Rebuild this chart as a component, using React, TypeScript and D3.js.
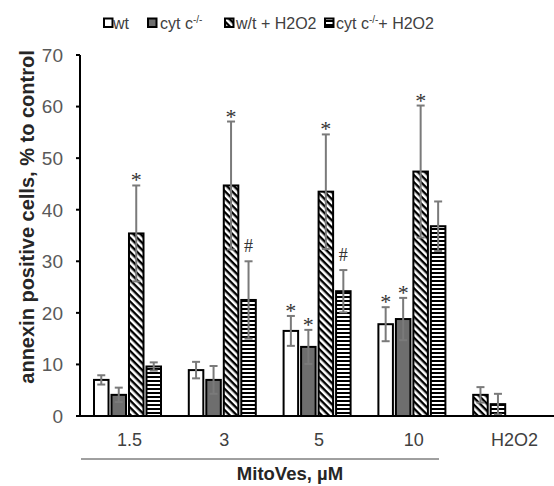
import { useEffect, useRef } from 'react';
import * as d3 from 'd3';

// groups on the x axis
const groups = ['1.5', '3', '5', '10', 'H2O2'];
const seriesKeys = ['wt', 'cyt', 'wtH2O2', 'cytH2O2'];
const seriesFill = ['white', 'gray', 'diag', 'horiz'];

// means and errors (null = no bar)
const wtMeans = [7.0, 8.9, 16.5, 17.8, null];
const wtErr = [0.9, 1.6, 2.9, 3.3, null];
const cytMeans = [4.1, 7.0, 13.4, 18.8, null];
const cytErr = [1.4, 2.7, 3.3, 4.1, null];
const wtH2O2Means = [35.4, 44.7, 43.5, 47.4, null];
const wtH2O2Err = [9.3, 12.4, 11.1, 12.8, null];
const cytH2O2Means = [9.6, 22.5, 24.2, 36.8, null];
const cytH2O2Err = [0.8, 7.5, 4.1, 4.8, null];

// H2O2-only controls sit in the first two slots of the last group
const h2o2Means = [4.1, 2.3];
const h2o2Err = [1.5, 2.0];
const h2o2Fill = ['diag', 'horiz'];

// significance marks per group / series
const marks = [
  ['', '', '*', ''],
  ['', '', '*', '#'],
  ['*', '*', '*', '#'],
  ['*', '*', '*', ''],
  ['', '', '', ''],
];

const yTicks = [0, 10, 20, 30, 40, 50, 60, 70];

const legendItems = [
  { fill: 'white', label: 'wt', sup: '', x: 104, tx: 113 },
  { fill: 'gray', label: 'cyt c', sup: '-/-', x: 148, tx: 160 },
  { fill: 'diag', label: 'w/t + H2O2', sup: '', x: 225, tx: 236 },
  { fill: 'horiz', label: 'cyt c', sup: '-/-', after: '+ H2O2', x: 325, tx: 336 },
];

const fillFor = (f: string) =>
  f === 'white' ? '#ffffff' : f === 'gray' ? '#6e6e6e' : f === 'diag' ? 'url(#diag)' : 'url(#horiz)';

export default function App() {
  const svgRef = useRef<SVGSVGElement>(null);

  useEffect(() => {
    const W = 554;
    const svg = d3.select(svgRef.current);
    svg.selectAll('*').remove();
    const font = '"Liberation Sans", Arial, sans-serif';
    const textCol = '#595959';

    const defs = svg.append('defs');
    const diag = defs.append('pattern').attr('id', 'diag')
      .attr('patternUnits', 'userSpaceOnUse').attr('width', 5).attr('height', 5)
      .attr('patternTransform', 'rotate(45)');
    diag.append('rect').attr('width', 5).attr('height', 5).attr('fill', '#fff');
    diag.append('rect').attr('width', 5).attr('height', 2.4).attr('fill', '#000');
    const horiz = defs.append('pattern').attr('id', 'horiz')
      .attr('patternUnits', 'userSpaceOnUse').attr('width', 4).attr('height', 4);
    horiz.append('rect').attr('width', 4).attr('height', 4).attr('fill', '#fff');
    horiz.append('rect').attr('width', 4).attr('height', 2).attr('fill', '#000');

    const x0 = d3.scaleBand().domain(groups).range([80, W]).paddingInner(0).paddingOuter(0);
    const x1 = d3.scaleBand().domain(seriesKeys).range([14, 81]).paddingInner(0.17).paddingOuter(0);
    const y = d3.scaleLinear().domain([0, 70]).range([416, 55]);

    const means = [wtMeans, cytMeans, wtH2O2Means, cytH2O2Means];
    const errs = [wtErr, cytErr, wtH2O2Err, cytH2O2Err];

    type Bar = { x: number; v: number; e: number; fill: string; mark: string };
    const bars: Bar[] = [];
    groups.forEach((g, gi) => {
      seriesKeys.forEach((s, si) => {
        const v = means[si][gi];
        if (v == null) return;
        bars.push({ x: (x0(g) as number) + (x1(s) as number), v, e: errs[si][gi] as number, fill: seriesFill[si], mark: marks[gi][si] });
      });
    });
    h2o2Means.forEach((v, i) => {
      bars.push({ x: (x0('H2O2') as number) + (x1(seriesKeys[i]) as number), v, e: h2o2Err[i], fill: h2o2Fill[i], mark: '' });
    });
    const bw = x1.bandwidth();

    // bars
    svg.append('g').selectAll('rect').data(bars).join('rect')
      .attr('x', d => d.x).attr('y', d => y(d.v))
      .attr('width', bw).attr('height', d => y(0) - y(d.v))
      .attr('fill', d => fillFor(d.fill))
      .attr('stroke', '#000').attr('stroke-width', 2);

    // error bars
    const eg = svg.append('g').attr('stroke', '#7a7a7a').attr('stroke-width', 2);
    bars.forEach(d => {
      const cx = d.x + bw / 2;
      eg.append('line').attr('x1', cx).attr('x2', cx).attr('y1', y(d.v - d.e)).attr('y2', y(d.v + d.e));
      eg.append('line').attr('x1', cx - 4).attr('x2', cx + 4).attr('y1', y(d.v + d.e)).attr('y2', y(d.v + d.e));
      eg.append('line').attr('x1', cx - 4).attr('x2', cx + 4).attr('y1', y(d.v - d.e)).attr('y2', y(d.v - d.e));
    });

    // significance marks
    svg.append('g').selectAll('text').data(bars.filter(d => d.mark)).join('text')
      .attr('x', d => d.x + bw / 2)
      .attr('y', d => d.mark === '*' ? y(d.v + d.e) + 2 : y(d.v + d.e) - 9)
      .attr('text-anchor', 'middle')
      .attr('font-family', '"Liberation Serif", "Times New Roman", serif')
      .attr('font-size', d => d.mark === '*' ? 22 : 18)
      .attr('fill', '#333')
      .text(d => d.mark);

    // y axis
    const ya = svg.append('g');
    ya.append('line').attr('x1', 80).attr('x2', 80).attr('y1', y(70)).attr('y2', y(0)).attr('stroke', '#000').attr('stroke-width', 2);
    ya.selectAll('line.t').data(yTicks).join('line').attr('class', 't')
      .attr('x1', 76).attr('x2', 80).attr('y1', d => y(d)).attr('y2', d => y(d))
      .attr('stroke', '#000').attr('stroke-width', 2);
    ya.selectAll('text').data(yTicks).join('text')
      .attr('x', 63).attr('y', d => y(d)).attr('dy', '0.36em')
      .attr('text-anchor', 'end').attr('font-family', font).attr('font-size', 19).attr('fill', textCol)
      .text(d => d);

    // x axis
    svg.append('line').attr('x1', 76).attr('x2', W).attr('y1', y(0)).attr('y2', y(0)).attr('stroke', '#000').attr('stroke-width', 2);
    svg.append('g').selectAll('text').data(groups).join('text')
      .attr('x', d => (x0(d) as number) + x0.bandwidth() / 2 + (d === 'H2O2' ? 8 : 2))
      .attr('y', 446).attr('text-anchor', 'middle')
      .attr('font-family', font).attr('font-size', 18).attr('fill', '#404040')
      .text(d => d);

    // bracket line under MitoVes groups
    svg.append('line').attr('x1', 81).attr('x2', 439).attr('y1', 459).attr('y2', 459).attr('stroke', '#404040').attr('stroke-width', 1);
    svg.append('text').attr('x', 290).attr('y', 480).attr('text-anchor', 'middle')
      .attr('font-family', font).attr('font-size', 18.5).attr('font-weight', 'bold').attr('fill', '#262626')
      .text('MitoVes, µM');

    // y title
    svg.append('text').attr('transform', 'translate(34,217) rotate(-90)')
      .attr('text-anchor', 'middle').attr('font-family', font).attr('font-size', 20).attr('font-weight', 'bold').attr('fill', '#262626')
      .text('annexin positive cells, % to control');

    // legend
    const lg = svg.append('g');
    legendItems.forEach(it => {
      lg.append('rect').attr('x', it.x).attr('y', 18.5).attr('width', 8.5).attr('height', 8.5)
        .attr('fill', fillFor(it.fill)).attr('stroke', '#000').attr('stroke-width', 2);
      const t = lg.append('text').attr('x', it.tx).attr('y', 28.5)
        .attr('font-family', font).attr('font-size', 16).attr('fill', '#404040');
      t.append('tspan').text(it.label);
      if (it.sup) t.append('tspan').attr('dy', -6).attr('font-size', 10).text(it.sup);
      if (it.after) t.append('tspan').attr('dy', 6).text(it.after);
    });
  }, []);

  return (
    <svg ref={svgRef} width={554} height={486}
      style={{ position: 'absolute', left: 0, top: 0, background: '#fff' }} />
  );
}
